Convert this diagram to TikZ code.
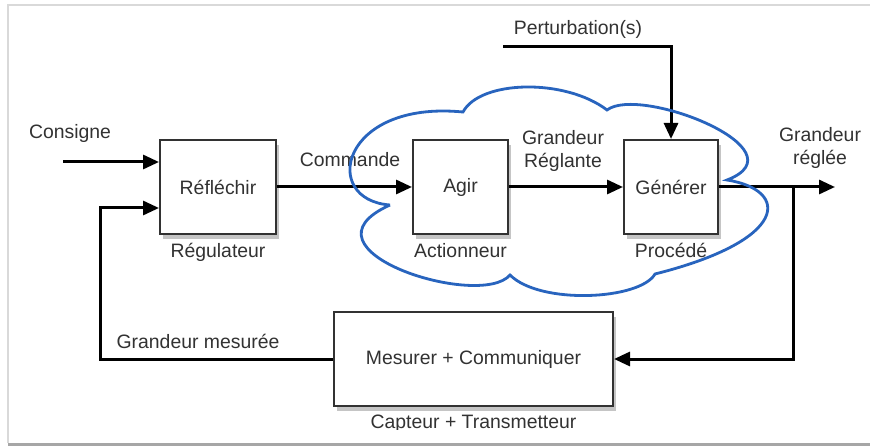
\documentclass[tikz,border=0pt]{standalone}
\usepackage{fontspec}
\setmainfont{Liberation Sans}
\usetikzlibrary{arrows.meta,positioning,shadows}
\definecolor{cloudblue}{RGB}{40,100,190}
\definecolor{txtgray}{RGB}{50,50,50}
\tikzset{block/.style={draw=txtgray, line width=1pt, fill=white, minimum height=47pt,
    drop shadow={opacity=0.45, shadow xshift=1.5pt, shadow yshift=-2.5pt}},
sig/.style={line width=1.5pt, -{Triangle[length=8pt,width=7pt]}},
lbl/.style={inner sep=0pt, align=center}
}

\begin{document}
\begin{tikzpicture}[x=0.5pt, y=-0.5pt, font=\fontsize{9.7}{11.5}\selectfont,
    every node/.append style={text=txtgray}]
            \useasboundingbox (0,0) rectangle (870,448);
            % frame
            \fill[white] (0,0) rectangle (870,448);
            \draw[gray!30, line width=1pt] (8,443) -- (8,5) -- (870,5);
            \draw[gray!70, line width=1.5pt] (8,444) -- (870,444);
            % blocks
            \node[block, minimum width=58pt] (refl) at (218,187) {Réfléchir};
            \node[block, minimum width=47.5pt] (agir) at (460.5,187) {Agir};
            \node[block, minimum width=47pt] (gen) at (671,187) {Générer};
            \node[block, minimum width=139.5pt] (mes) at (473.5,359) {Mesurer + Communiquer};
            \node[lbl, below=4pt of refl] (regul) {Régulateur};
            \node[lbl, below=4pt of agir] (action) {Actionneur};
            \node[lbl, below=4pt of gen] (proc) {Procédé};
            \begin{scope}
                \clip (0,0) rectangle (870,429);
                \node[lbl, below=4pt of mes] (capteur) {Capteur + Transmetteur};
            \end{scope}
            % signals
            \coordinate (cin) at (63,162);
            \coordinate (fb) at (100,208);
            \coordinate (yout) at (835,187);
            \coordinate (branch) at (793,187);
            \coordinate (pert) at (503,47);
            \draw[sig] (cin) -- (cin -| refl.west);
            \draw[sig] (mes.west) -| (fb) -- (fb -| refl.west);
            \draw[sig] (refl) -- (agir);
            \draw[sig] (agir) -- (gen);
            \draw[sig] (gen) -- (yout);
            \draw[sig] (branch) |- (mes.east);
            \draw[sig] (pert) -| (gen.north);
            \node[lbl] (consigne) at (70,133) {Consigne};
            \node[lbl] (commande) at (350,160) {Commande};
            \node[lbl] (greglante) at (563,151) {Grandeur\\Réglante};
            \node[lbl] (greglee) at (820,148) {Grandeur\\réglée};
            \node[lbl] (perturb) at (578,29) {Perturbation(s)};
            \node[lbl] (gmes) at (198,341) {Grandeur mesurée};
            % cloud
            \draw[cloudblue, line width=1.4pt] (390,205)
                .. controls (320,200) and (340,100) .. (463,112)
                .. controls (480,80) and (565,78) .. (607,110)
                .. controls (640,85) and (805,150) .. (727,180)
                .. controls (790,190) and (790,240) .. (655,274)
                .. controls (640,300) and (540,305) .. (510,275)
                .. controls (480,310) and (290,250) .. (390,205);
        \end{tikzpicture}
\end{document}
